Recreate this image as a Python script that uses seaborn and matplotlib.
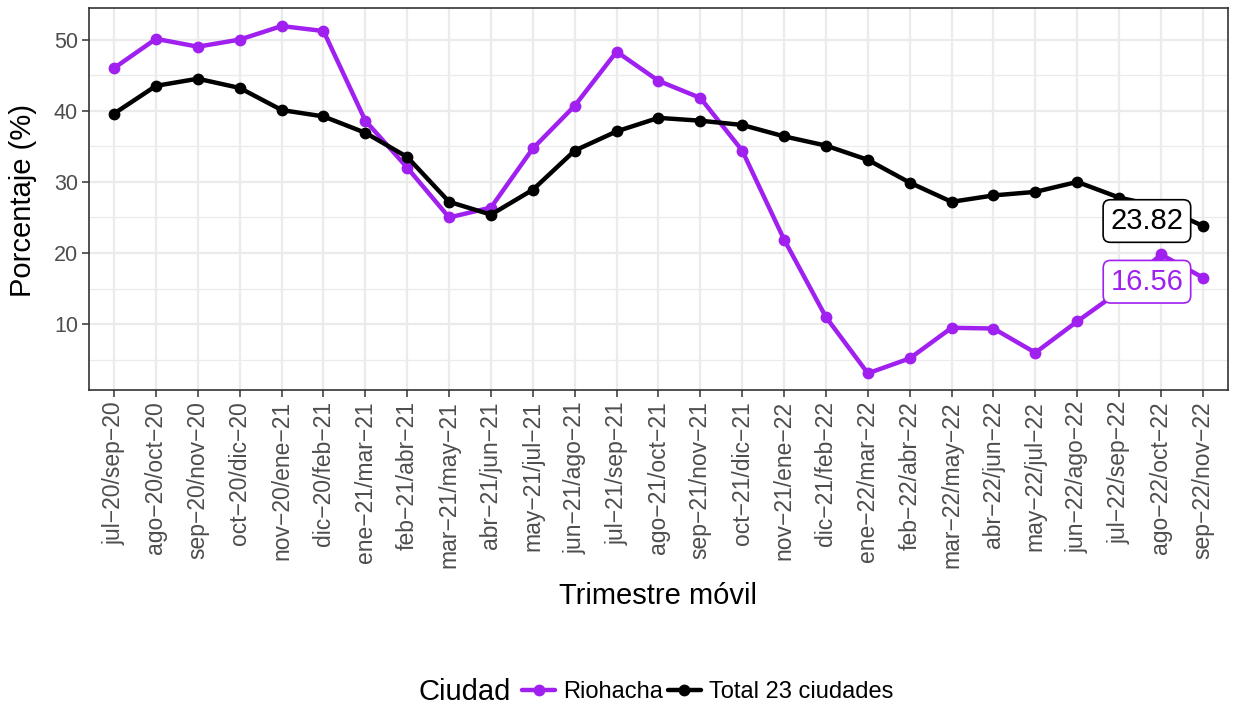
import numpy as np
import pandas as pd
import matplotlib
matplotlib.use("Agg")
from matplotlib import pyplot as plt
from matplotlib.lines import Line2D
from matplotlib.ticker import MultipleLocator
import seaborn as sns

periodos = ["jul−20/sep−20", "ago−20/oct−20", "sep−20/nov−20", "oct−20/dic−20",
            "nov−20/ene−21", "dic−20/feb−21", "ene−21/mar−21", "feb−21/abr−21",
            "mar−21/may−21", "abr−21/jun−21", "may−21/jul−21", "jun−21/ago−21",
            "jul−21/sep−21", "ago−21/oct−21", "sep−21/nov−21", "oct−21/dic−21",
            "nov−21/ene−22", "dic−21/feb−22", "ene−22/mar−22", "feb−22/abr−22",
            "mar−22/may−22", "abr−22/jun−22", "may−22/jul−22", "jun−22/ago−22",
            "jul−22/sep−22", "ago−22/oct−22", "sep−22/nov−22"]
riohacha = [46.0, 50.1, 49.0, 50.0, 51.9, 51.2, 38.6, 32.0, 25.0, 26.4, 34.7, 40.7,
            48.3, 44.2, 41.8, 34.4, 21.9, 11.0, 3.1, 5.2, 9.5, 9.4, 6.0, 10.4,
            14.6, 19.8, 16.56]
total23 = [39.6, 43.5, 44.5, 43.2, 40.1, 39.2, 36.9, 33.5, 27.2, 25.4, 28.9, 34.4,
           37.1, 39.0, 38.6, 38.0, 36.4, 35.1, 33.1, 29.9, 27.2, 28.1, 28.6, 30.0,
           27.8, 26.5, 23.82]
ciudades = ["Riohacha", "Total 23 ciudades"]
colores = {"Riohacha": "#A020F0", "Total 23 ciudades": "#000000"}

n = len(periodos)
df = pd.DataFrame({
    "idx": list(range(n)) * 2,
    "valor": riohacha + total23,
    "Ciudad": [ciudades[0]] * n + [ciudades[1]] * n,
})

sns.set_theme(style="whitegrid")
plt.rcParams["font.family"] = ["Liberation Sans", "DejaVu Sans"]
plt.rcParams["text.color"] = "black"
plt.rcParams["axes.labelcolor"] = "black"

fig = plt.figure(figsize=(12.36, 7.06), dpi=100)
ax = fig.add_axes([0.072, 0.4476, 0.9215, 0.5411])

sns.lineplot(data=df, x="idx", y="valor", hue="Ciudad", palette=colores,
             marker="o", markersize=8.5, markeredgewidth=0, linewidth=3.2,
             legend=False, ax=ax, zorder=3)

ax.set_xlim(-0.6, n - 1 + 0.6)
ax.set_ylim(0.76, 54.44)
ax.set_xticks(range(n))
ax.set_xticklabels(periodos, rotation=90, fontsize=16.5, color="#4d4d4d")
ax.yaxis.set_major_locator(MultipleLocator(10))
ax.yaxis.set_minor_locator(MultipleLocator(5))
ax.tick_params(axis="y", labelsize=15.5, labelcolor="#4d4d4d")
ax.tick_params(axis="both", which="major", length=5, width=1.1, color="#333333",
               direction="out", bottom=True, left=True, pad=3)
ax.grid(True, which="major", color="#ebebeb", linewidth=1.6)
ax.grid(True, which="minor", axis="y", color="#ebebeb", linewidth=0.9)
ax.set_axisbelow(True)
for s in ax.spines.values():
    s.set_color("#333333")
    s.set_linewidth(1.2)

ax.set_xlabel("Trimestre móvil", fontsize=21)
ax.set_ylabel("Porcentaje (%)", fontsize=21)
ax.xaxis.label.set_va("center")
ax.yaxis.label.set_va("center")
ax.xaxis.set_label_coords(0.5, -0.539)
ax.yaxis.set_label_coords(-0.058, 0.495)

# etiquetas del ultimo valor
desplaz = {"Total 23 ciudades": 3.5, "Riohacha": -3}
for nombre, serie in [("Total 23 ciudades", total23), ("Riohacha", riohacha)]:
    c = colores[nombre]
    ax.annotate(f"{serie[-1]:.2f}", xy=(n - 1, serie[-1]),
                xytext=(-14, desplaz[nombre]),
                textcoords="offset points", ha="right", va="center",
                fontsize=21, color=c, zorder=5,
                bbox=dict(boxstyle="round,pad=0.25", fc="white", ec=c, lw=1.2))

handles = [Line2D([], [], color=colores[c], linewidth=3.2, marker="o", markersize=8.5,
                  markeredgewidth=0) for c in ciudades]
fig.text(418 / 1236, 1 - 692 / 706, "Ciudad", fontsize=21, va="center", ha="left")
fig.legend(handles, ciudades, loc="center left",
           bbox_to_anchor=(522 / 1236, 1 - 692 / 706),
           ncol=2, frameon=False, fontsize=17, handlelength=1.4,
           handletextpad=0.35, columnspacing=0.2, borderpad=0, borderaxespad=0)

fig.savefig("out.png", dpi=100)
